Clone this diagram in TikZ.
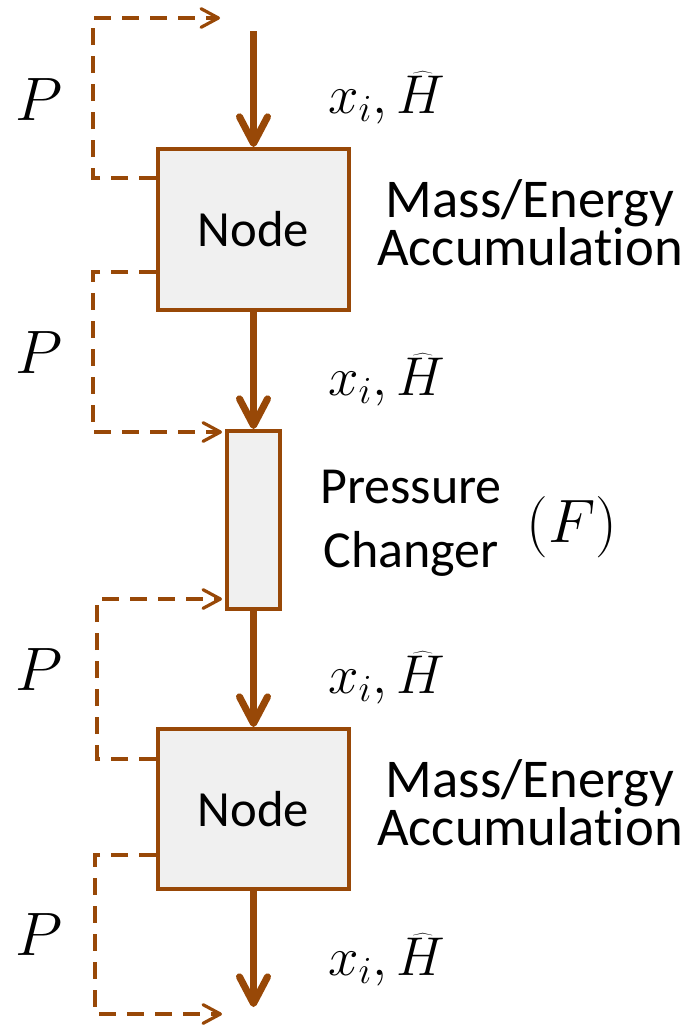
\documentclass[tikz,border=0pt]{standalone}
\usepackage{fix-cm}
\usepackage[no-math]{fontspec}
\setmainfont{Carlito}[Ligatures=NoCommon]
\usetikzlibrary{arrows.meta}
\definecolor{brn}{RGB}{152,72,7}
\definecolor{boxfill}{RGB}{240,240,240}
\begin{document}
\begin{tikzpicture}[x=0.75pt,y=-0.75pt,
  unitbox/.style={draw=brn, fill=boxfill, line width=3pt, inner sep=0pt, font=\fontsize{38}{40}\selectfont},
  flow/.style={draw=brn, line width=5.25pt, -{Straight Barb[length=20pt,width=21pt,line cap=round,line join=round]}},
  fb/.style={draw=brn, line width=2.4pt, dash pattern=on 12.75pt off 8.25pt, -{Straight Barb[length=13pt,width=14pt,line cap=round,line join=round]}},
  plabel/.style={anchor=base west, inner sep=0pt, font=\fontsize{46}{50}\selectfont},
  slabel/.style={anchor=base west, inner sep=0pt, font=\fontsize{41}{44}\selectfont},
  desc/.style={align=center, inner sep=0pt, anchor=base},
]
\useasboundingbox (0,0) rectangle (682,1025);
% units
\node[unitbox, minimum width=143.25pt, minimum height=120.75pt] (n1) at (253.5,229.5) {Node};
\node[unitbox, minimum width=39.75pt, minimum height=133.5pt] (pc) at (253.5,520) {};
\node[unitbox, minimum width=143.25pt, minimum height=120pt] (n2) at (253.5,809) {Node};
% main flow
\coordinate (in) at (253.5,31);
\coordinate (out) at (253.5,1007);
\draw[flow] (in) -- (n1.north);
\draw[flow] (n1.south) -- (pc.north);
\draw[flow] (pc.south) -- (n2.north);
\draw[flow] (n2.south) -- (out);
% pressure feedback
\coordinate (f1) at (220,18);
\coordinate (f4) at (222,1014);
\draw[fb] (n1.west |- 0,178) -- (93,178) -- (93,18) -- (f1);
\draw[fb, shorten >=2.25pt] (n1.west |- 0,272) -- (93,272) -- (93,432) -- (pc.west |- 0,432);
\draw[fb, shorten >=2.25pt] (n2.west |- 0,759) -- (97,759) -- (97,599) -- (pc.west |- 0,599);
\draw[fb] (n2.west |- 0,855) -- (95,855) -- (95,1014) -- (f4);
% labels
\node[plabel] (p1) at (15,120) {$P$};
\node[plabel] (p2) at (15,373) {$P$};
\node[plabel] (p3) at (15,690) {$P$};
\node[plabel] (p4) at (15,955) {$P$};
\node[slabel] (s1) at (328,113) {$x_i,\widehat{H\mkern2mu}$};
\node[slabel] (s2) at (328,395) {$x_i,\widehat{H\mkern2mu}$};
\node[slabel] (s3) at (328,693) {$x_i,\widehat{H\mkern2mu}$};
\node[slabel] (s4) at (328,975) {$x_i,\widehat{H\mkern2mu}$};
\node[desc, font=\fontsize{41}{36}\selectfont] (d1) at (530,265) {Mass/Energy\\Accumulation};
\node[desc, font=\fontsize{41}{36}\selectfont] (d2) at (530,845) {Mass/Energy\\Accumulation};
\node[desc, font=\fontsize{39}{48}\selectfont] (d3) at (411,567) {Pressure\\Changer};
\node[anchor=base, inner sep=0pt, font=\fontsize{46}{50}\selectfont] (fl) at (572,542) {$(F)$};
\end{tikzpicture}
\end{document}
